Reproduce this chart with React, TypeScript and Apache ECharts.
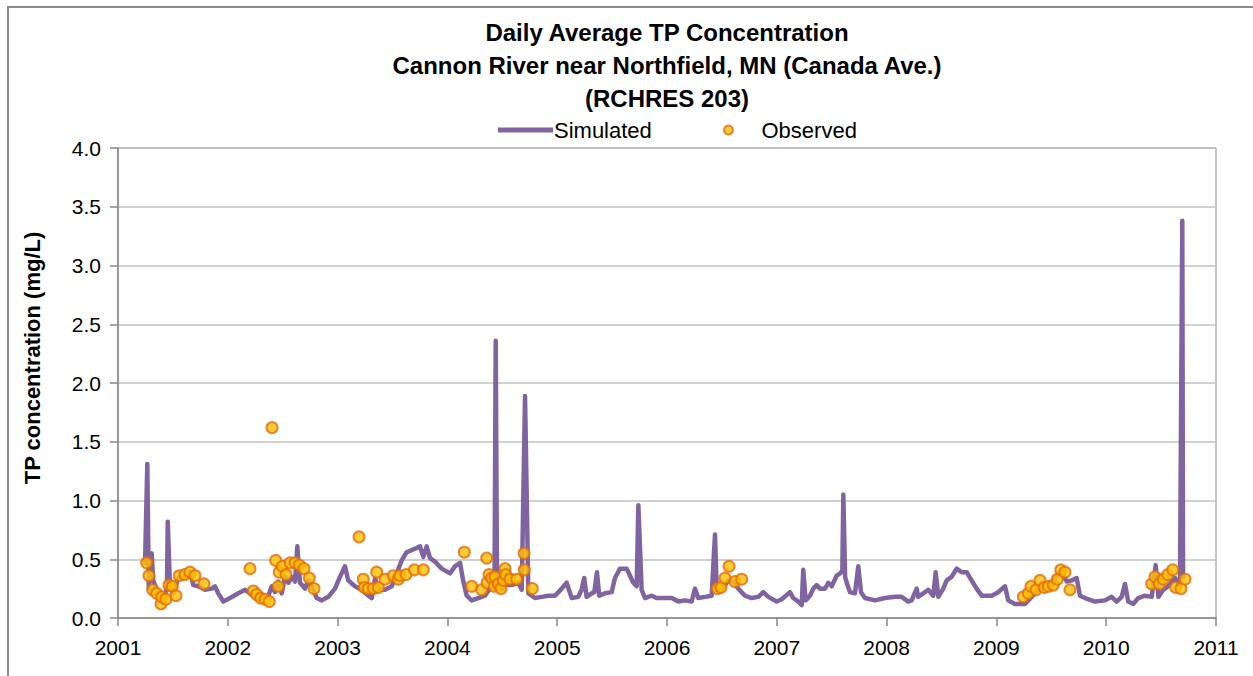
import React, { useEffect, useRef } from "react";
import * as echarts from "echarts";

const titleLines = [
  "Daily Average TP Concentration",
  "Cannon River near Northfield, MN (Canada Ave.)",
  "(RCHRES 203)",
];
const yAxisTitle = "TP concentration (mg/L)";
const seriesNames = ["Simulated", "Observed"];
const xTicks = [2001, 2002, 2003, 2004, 2005, 2006, 2007, 2008, 2009, 2010, 2011];
const yTicks = [0, 0.5, 1, 1.5, 2, 2.5, 3, 3.5, 4];

const simYears = [
  2001.246, 2001.267, 2001.28, 2001.307, 2001.32, 2001.367, 2001.413, 2001.446, 2001.453, 2001.474,
  2001.504, 2001.549, 2001.61, 2001.656, 2001.686, 2001.731, 2001.792, 2001.853, 2001.883, 2001.913,
  2001.959, 2002.02, 2002.096, 2002.157, 2002.187, 2002.232, 2002.309, 2002.366, 2002.4, 2002.43,
  2002.46, 2002.491, 2002.521, 2002.551, 2002.582, 2002.612, 2002.633, 2002.658, 2002.703, 2002.733,
  2002.764, 2002.81, 2002.855, 2002.915, 2002.976, 2003.022, 2003.067, 2003.097, 2003.158, 2003.219,
  2003.28, 2003.311, 2003.341, 2003.371, 2003.432, 2003.493, 2003.584, 2003.629, 2003.705, 2003.75,
  2003.781, 2003.811, 2003.842, 2003.887, 2003.948, 2004.024, 2004.069, 2004.115, 2004.145, 2004.176,
  2004.221, 2004.281, 2004.342, 2004.403, 2004.429, 2004.44, 2004.452, 2004.495, 2004.525, 2004.586,
  2004.646, 2004.677, 2004.707, 2004.737, 2004.798, 2004.859, 2004.919, 2004.98, 2005.041, 2005.086,
  2005.132, 2005.192, 2005.222, 2005.246, 2005.268, 2005.314, 2005.338, 2005.362, 2005.383, 2005.435,
  2005.496, 2005.526, 2005.572, 2005.633, 2005.663, 2005.693, 2005.724, 2005.739, 2005.769, 2005.8,
  2005.861, 2005.906, 2005.982, 2006.043, 2006.103, 2006.164, 2006.225, 2006.255, 2006.285, 2006.346,
  2006.407, 2006.437, 2006.453, 2006.498, 2006.56, 2006.604, 2006.649, 2006.71, 2006.771, 2006.832,
  2006.877, 2006.923, 2006.999, 2007.045, 2007.12, 2007.15, 2007.196, 2007.227, 2007.241, 2007.263,
  2007.302, 2007.332, 2007.363, 2007.393, 2007.439, 2007.469, 2007.5, 2007.545, 2007.576, 2007.597,
  2007.606, 2007.622, 2007.637, 2007.667, 2007.712, 2007.742, 2007.767, 2007.803, 2007.894, 2007.985,
  2008.076, 2008.137, 2008.197, 2008.228, 2008.274, 2008.288, 2008.334, 2008.379, 2008.425, 2008.447,
  2008.471, 2008.516, 2008.547, 2008.592, 2008.638, 2008.683, 2008.729, 2008.774, 2008.82, 2008.866,
  2008.957, 2009.017, 2009.078, 2009.108, 2009.169, 2009.26, 2009.321, 2009.382, 2009.443, 2009.504,
  2009.549, 2009.595, 2009.64, 2009.686, 2009.731, 2009.761, 2009.807, 2009.898, 2009.989, 2010.05,
  2010.095, 2010.141, 2010.171, 2010.201, 2010.247, 2010.292, 2010.353, 2010.414, 2010.451, 2010.475,
  2010.52, 2010.565, 2010.627, 2010.672, 2010.693, 2010.7,
];
const simValues = [
  0.45, 1.31, 0.25, 0.55, 0.32, 0.21, 0.17, 0.25, 0.82, 0.25,
  0.21, 0.34, 0.35, 0.39, 0.28, 0.27, 0.24, 0.25, 0.27, 0.21,
  0.14, 0.17, 0.21, 0.24, 0.22, 0.19, 0.15, 0.18, 0.27, 0.22,
  0.31, 0.21, 0.35, 0.3, 0.35, 0.31, 0.61, 0.3, 0.25, 0.32,
  0.27, 0.17, 0.15, 0.18, 0.25, 0.35, 0.44, 0.32, 0.27, 0.24,
  0.19, 0.17, 0.34, 0.24, 0.24, 0.27, 0.49, 0.56, 0.59, 0.61,
  0.52, 0.61, 0.51, 0.48, 0.42, 0.38, 0.44, 0.47, 0.31, 0.19,
  0.15, 0.17, 0.19, 0.27, 0.25, 2.36, 0.26, 0.24, 0.28, 0.28,
  0.3, 0.24, 1.89, 0.21, 0.17, 0.18, 0.19, 0.19, 0.25, 0.3,
  0.17, 0.18, 0.24, 0.34, 0.18, 0.21, 0.22, 0.39, 0.19, 0.21,
  0.22, 0.34, 0.42, 0.42, 0.36, 0.3, 0.27, 0.96, 0.24, 0.17,
  0.19, 0.17, 0.17, 0.17, 0.14, 0.15, 0.14, 0.25, 0.17, 0.18,
  0.19, 0.71, 0.24, 0.24, 0.32, 0.31, 0.25, 0.19, 0.17, 0.18,
  0.22, 0.18, 0.14, 0.16, 0.22, 0.17, 0.14, 0.11, 0.41, 0.15,
  0.19, 0.25, 0.28, 0.25, 0.25, 0.3, 0.27, 0.36, 0.38, 0.4,
  1.05, 0.35, 0.3, 0.22, 0.21, 0.44, 0.22, 0.17, 0.15, 0.17,
  0.18, 0.18, 0.14, 0.15, 0.25, 0.18, 0.21, 0.24, 0.19, 0.39,
  0.18, 0.25, 0.32, 0.35, 0.42, 0.39, 0.39, 0.32, 0.25, 0.19,
  0.19, 0.22, 0.27, 0.15, 0.12, 0.12, 0.18, 0.24, 0.25, 0.3,
  0.36, 0.4, 0.31, 0.32, 0.34, 0.19, 0.17, 0.14, 0.15, 0.18,
  0.14, 0.18, 0.29, 0.14, 0.12, 0.17, 0.19, 0.18, 0.45, 0.18,
  0.24, 0.27, 0.34, 0.28, 3.38, 0.33,
];

const obsYears = [
  2001.261, 2001.282, 2001.316, 2001.352, 2001.392, 2001.398, 2001.437, 2001.464, 2001.495, 2001.528,
  2001.558, 2001.61, 2001.656, 2001.701, 2001.783, 2002.202, 2002.232, 2002.263, 2002.3, 2002.339,
  2002.378, 2002.403, 2002.436, 2002.46, 2002.469, 2002.496, 2002.53, 2002.566, 2002.612, 2002.651,
  2002.694, 2002.742, 2002.785, 2003.195, 2003.234, 2003.243, 2003.28, 2003.325, 2003.356, 2003.371,
  2003.432, 2003.507, 2003.553, 2003.568, 2003.623, 2003.699, 2003.781, 2004.154, 2004.221, 2004.312,
  2004.358, 2004.362, 2004.379, 2004.403, 2004.427, 2004.434, 2004.464, 2004.488, 2004.509, 2004.525,
  2004.531, 2004.57, 2004.631, 2004.698, 2004.7, 2004.773, 2006.458, 2006.492, 2006.528, 2006.565,
  2006.619, 2006.68, 2009.245, 2009.29, 2009.315, 2009.361, 2009.397, 2009.436, 2009.473, 2009.518,
  2009.555, 2009.586, 2009.625, 2009.67, 2010.414, 2010.444, 2010.484, 2010.52, 2010.56, 2010.606,
  2010.633, 2010.681, 2010.718,
];
const obsValues = [
  0.47, 0.36, 0.24, 0.21, 0.12, 0.18, 0.16, 0.28, 0.27, 0.19,
  0.36, 0.37, 0.39, 0.36, 0.29, 0.42, 0.23, 0.2, 0.17, 0.16,
  0.14, 1.62, 0.49, 0.27, 0.39, 0.44, 0.37, 0.47, 0.47, 0.45,
  0.42, 0.34, 0.25, 0.69, 0.33, 0.26, 0.25, 0.25, 0.39, 0.26,
  0.33, 0.36, 0.33, 0.36, 0.37, 0.41, 0.41, 0.56, 0.27, 0.24,
  0.51, 0.3, 0.37, 0.34, 0.27, 0.35, 0.29, 0.25, 0.32, 0.42,
  0.37, 0.33, 0.33, 0.55, 0.41, 0.25, 0.25, 0.26, 0.34, 0.44,
  0.31, 0.33, 0.18, 0.21, 0.27, 0.24, 0.32, 0.26, 0.27, 0.28,
  0.33, 0.41, 0.39, 0.24, 0.29, 0.35, 0.29, 0.33, 0.37, 0.41,
  0.26, 0.25, 0.33,
];

const FONT = "'Liberation Sans', Arial, sans-serif";

export default function App() {
  const ref = useRef<HTMLDivElement>(null);

  useEffect(() => {
    if (!ref.current) return;
    const chart = echarts.init(ref.current, undefined, { renderer: "svg" });
    const simData = simYears.map((y, i) => [y, simValues[i]]);
    const obsData = obsYears.map((y, i) => [y, obsValues[i]]);
    chart.setOption({
      animation: false,
      backgroundColor: "#ffffff",
      textStyle: { fontFamily: FONT },
      title: titleLines.map((t, i) => ({
        text: t,
        left: 662,
        textAlign: "center",
        top: 15 + i * 33,
        textStyle: { fontFamily: FONT, fontSize: 24, fontWeight: "bold", color: "#000" },
      })),
      legend: [
        {
          data: [{ name: seriesNames[0], icon: "rect" }],
          left: 493,
          top: 114,
          itemWidth: 55,
          itemHeight: 5,
          itemGap: 0,
          textStyle: { fontFamily: FONT, fontSize: 22, color: "#000", padding: [0, 0, 0, -4] },
        },
        {
          data: [{ name: seriesNames[1], icon: "circle" }],
          left: 718,
          top: 114,
          itemWidth: 56,
          itemHeight: 9,
          itemGap: 0,
          textStyle: { fontFamily: FONT, fontSize: 22, color: "#000" },
        },
      ],
      grid: { left: 118, right: 37, top: 148, bottom: 58, containLabel: false, show: true, borderColor: "#888888", borderWidth: 1 },
      xAxis: {
        type: "value",
        min: xTicks[0],
        max: xTicks[xTicks.length - 1],
        interval: 1,
        axisLine: { show: true, lineStyle: { color: "#888888", width: 1.5 } },
        axisTick: { show: true, length: 8, lineStyle: { color: "#888888", width: 1.5 } },
        axisLabel: { fontFamily: FONT, fontSize: 21, color: "#000", margin: 19, formatter: (v: number) => String(v) },
        splitLine: { show: false },
      },
      yAxis: {
        type: "value",
        min: yTicks[0],
        max: yTicks[yTicks.length - 1],
        interval: 0.5,
        axisLine: { show: true, lineStyle: { color: "#888888", width: 1.5 } },
        axisTick: { show: true, length: 8, lineStyle: { color: "#888888", width: 1.5 } },
        axisLabel: { fontFamily: FONT, fontSize: 21, color: "#000", margin: 17, formatter: (v: number) => v.toFixed(1) },
        splitLine: { show: true, lineStyle: { color: "#c0c0c0", width: 1.5 } },
      },
      graphic: [
        {
          type: "rect",
          silent: true,
          shape: { x: 8, y: 7, width: 1270, height: 700 },
          style: { fill: "none", stroke: "#8c8c8c", lineWidth: 2 },
        },
        {
          type: "text",
          x: 32,
          y: 358,
          rotation: Math.PI / 2,
          style: {
            text: yAxisTitle,
            fontFamily: FONT,
            fontSize: 22,
            fontWeight: "bold",
            fill: "#000",
            align: "center",
            verticalAlign: "middle",
          },
        },
      ],
      series: [
        {
          name: seriesNames[0],
          type: "line",
          data: simData,
          showSymbol: false,
          symbol: "none",
          lineStyle: { color: "#8064A2", width: 4.5, join: "round" },
          itemStyle: { color: "#8064A2" },
          z: 2,
        },
        {
          name: seriesNames[1],
          type: "scatter",
          data: obsData,
          symbol: "circle",
          symbolSize: 11,
          itemStyle: { color: "#FFC000", borderColor: "#E46C0A", borderWidth: 2 },
          z: 3,
        },
      ],
    });
    return () => chart.dispose();
  }, []);

  return (
    <div
      ref={ref}
      style={{ position: "fixed", left: 0, top: 0, width: 1253, height: 676, background: "#fff" }}
    />
  );
}
